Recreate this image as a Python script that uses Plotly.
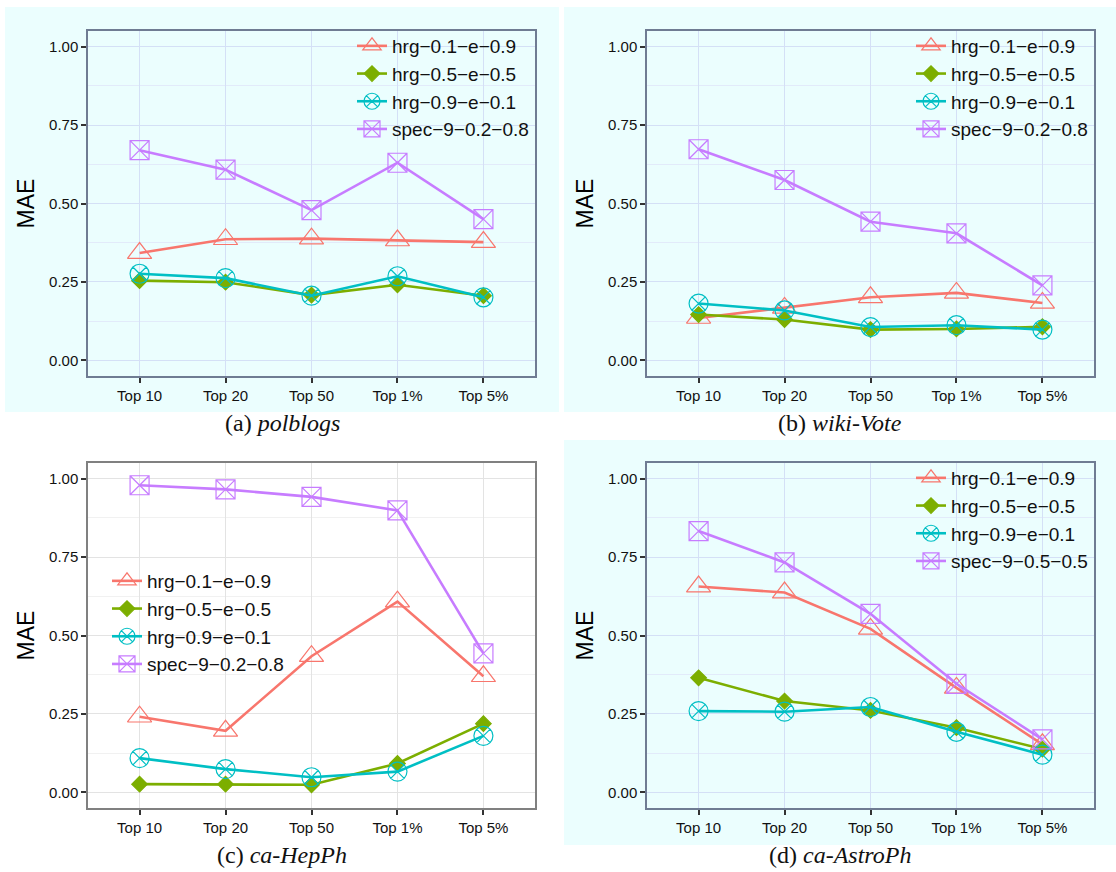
import plotly.graph_objects as go

# ---------------- data ----------------
categories = ["Top 10", "Top 20", "Top 50", "Top 1%", "Top 5%"]
names_abc = ["hrg−0.1−e−0.9", "hrg−0.5−e−0.5", "hrg−0.9−e−0.1", "spec−9−0.2−0.8"]
names_d = ["hrg−0.1−e−0.9", "hrg−0.5−e−0.5", "hrg−0.9−e−0.1", "spec−9−0.5−0.5"]

polblogs_hrg01 = [0.342, 0.386, 0.388, 0.382, 0.377]
polblogs_hrg05 = [0.254, 0.249, 0.208, 0.241, 0.206]
polblogs_hrg09 = [0.276, 0.262, 0.206, 0.268, 0.201]
polblogs_spec = [0.670, 0.608, 0.479, 0.630, 0.450]

wikivote_hrg01 = [0.135, 0.167, 0.201, 0.215, 0.183]
wikivote_hrg05 = [0.146, 0.130, 0.098, 0.100, 0.107]
wikivote_hrg09 = [0.181, 0.159, 0.106, 0.112, 0.098]
wikivote_spec = [0.673, 0.575, 0.442, 0.405, 0.239]

hepph_hrg01 = [0.241, 0.196, 0.434, 0.608, 0.370]
hepph_hrg05 = [0.026, 0.026, 0.024, 0.092, 0.219]
hepph_hrg09 = [0.109, 0.074, 0.048, 0.066, 0.180]
hepph_spec = [0.979, 0.966, 0.942, 0.899, 0.443]

astroph_hrg01 = [0.656, 0.637, 0.521, 0.333, 0.153]
astroph_hrg05 = [0.365, 0.291, 0.261, 0.206, 0.138]
astroph_hrg09 = [0.259, 0.257, 0.272, 0.193, 0.120]
astroph_spec = [0.833, 0.733, 0.569, 0.346, 0.169]

y_ticks = [0.0, 0.25, 0.5, 0.75, 1.0]
y_ticklabels = ["0.00", "0.25", "0.50", "0.75", "1.00"]
captions = ["(a) <i>polblogs</i>", "(b) <i>wiki-Vote</i>", "(c) <i>ca-HepPh</i>", "(d) <i>ca-AstroPh</i>"]

# ---------------- styling ----------------
W, H = 1116, 872
colors = ["#F8766D", "#7CAE00", "#00BFC4", "#C77CFF"]
symbols = ["triangle-up-open", "diamond", "circle-x-open", "square-x-open"]
msizes = [21, 12, 19, 19]
CYAN = "#ebfefe"

panels = [
    dict(data=[polblogs_hrg01, polblogs_hrg05, polblogs_hrg09, polblogs_spec], names=names_abc,
         plot=(88, 535, 31, 376), bg=(5, 559, 7, 412), cap=(282, 423), leg=(352, 27), theme="cyan"),
    dict(data=[wikivote_hrg01, wikivote_hrg05, wikivote_hrg09, wikivote_spec], names=names_abc,
         plot=(647, 1094, 31, 376), bg=(564, 1118, 7, 412), cap=(840, 423), leg=(911, 27), theme="cyan"),
    dict(data=[hepph_hrg01, hepph_hrg05, hepph_hrg09, hepph_spec], names=names_abc,
         plot=(88, 535, 463, 808), bg=None, cap=(282, 855), leg=(107, 562), theme="white"),
    dict(data=[astroph_hrg01, astroph_hrg05, astroph_hrg09, astroph_spec], names=names_d,
         plot=(647, 1094, 463, 808), bg=(564, 1118, 440, 845), cap=(840, 855), leg=(911, 459), theme="cyan"),
]

def px(x):
    return x / W

def py(y):
    return 1 - y / H

fig = go.Figure()
shapes = []
annotations = []
layout = dict(width=W, height=H, margin=dict(l=0, r=0, t=0, b=0),
              paper_bgcolor="white", plot_bgcolor="rgba(0,0,0,0)", showlegend=True)

for i, p in enumerate(panels):
    k = i + 1
    sfx = "" if k == 1 else str(k)
    legname = "legend" if k == 1 else f"legend{k}"
    for j in range(4):
        fig.add_trace(go.Scatter(
            x=categories, y=p["data"][j], name=p["names"][j],
            mode="lines+markers",
            line=dict(color=colors[j], width=2.6),
            marker=dict(symbol=symbols[j], size=msizes[j], color=colors[j],
                        line=dict(color=colors[j], width=1.2)),
            xaxis="x" + sfx, yaxis="y" + sfx, legend=legname,
        ))
    x0, x1, y0, y1 = p["plot"]
    if p["theme"] == "cyan":
        grid, minor, border = "#d4e0f6", "#e2ebfa", "#6f7c93"
    else:
        grid, minor, border = "#e3e3e3", "#f1f1f1", "#808080"
    layout["xaxis" + sfx] = dict(
        domain=[px(x0), px(x1)], anchor="y" + sfx, type="category",
        categoryorder="array", categoryarray=categories,
        range=[-0.6, 4.6], showgrid=True, gridcolor=grid, gridwidth=1,
        showline=True, linecolor=border, linewidth=1.5, mirror=True,
        ticks="outside", ticklen=5, tickwidth=1.5, tickcolor="#333333",
        tickfont=dict(family="Liberation Sans", size=15, color="#111111"),
        zeroline=False,
    )
    layout["yaxis" + sfx] = dict(
        domain=[py(y1), py(y0)], anchor="x" + sfx,
        range=[-0.05, 1.05], tickvals=y_ticks, ticktext=y_ticklabels,
        showgrid=True, gridcolor=grid, gridwidth=1,
        minor=dict(tickvals=[0.125, 0.375, 0.625, 0.875], showgrid=True, gridcolor=minor, gridwidth=1, ticks=""),
        showline=True, linecolor=border, linewidth=1.5, mirror=True,
        ticks="outside", ticklen=5, tickwidth=1.5, tickcolor="#333333",
        tickfont=dict(family="Liberation Sans", size=15, color="#111111"),
        title=dict(text="MAE", font=dict(family="Liberation Sans", size=23, color="#000000"), standoff=8),
        zeroline=False,
    )
    lx, ly = p["leg"]
    layout[legname] = dict(
        x=px(lx), y=py(ly), xanchor="left", yanchor="top",
        bgcolor="rgba(0,0,0,0)", borderwidth=0,
        font=dict(family="Liberation Sans", size=19, color="#111111"),
        tracegroupgap=0, itemwidth=30,
    )
    if p["bg"] is not None:
        bx0, bx1, by0, by1 = p["bg"]
        shapes.append(dict(type="rect", xref="paper", yref="paper",
                           x0=px(bx0), x1=px(bx1), y0=py(by1), y1=py(by0),
                           fillcolor=CYAN, line=dict(width=0), layer="below"))
    cx, cy = p["cap"]
    annotations.append(dict(text=captions[i], xref="paper", yref="paper",
                            x=px(cx), y=py(cy), xanchor="center", yanchor="middle",
                            showarrow=False,
                            font=dict(family="Liberation Serif", size=24, color="#111111")))

layout["shapes"] = shapes
layout["annotations"] = annotations
fig.update_layout(**layout)
fig.write_html("out.html", config={"displayModeBar": False},
               post_script="document.body.style.margin='0';document.body.style.overflow='hidden';")
